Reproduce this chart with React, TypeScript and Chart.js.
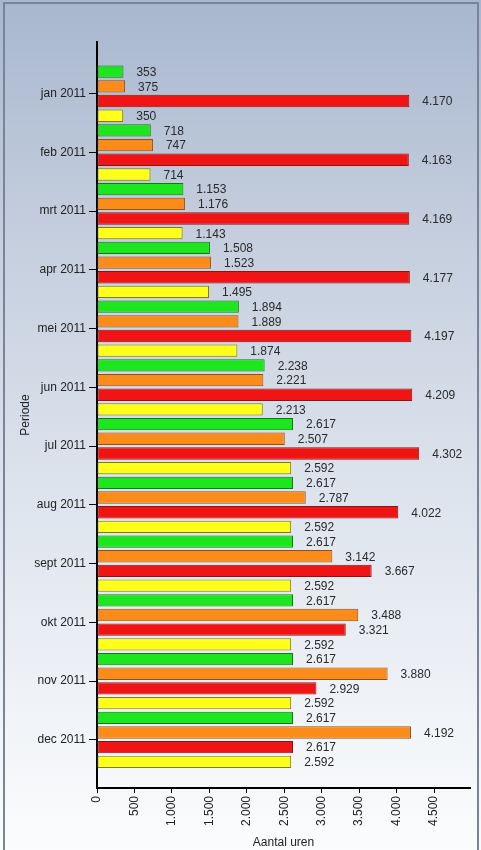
import React, { useEffect, useRef } from "react";
import { Chart, registerables } from "chart.js";

Chart.register(...registerables);

const months = [
  "jan 2011", "feb 2011", "mrt 2011", "apr 2011", "mei 2011", "jun 2011",
  "jul 2011", "aug 2011", "sept 2011", "okt 2011", "nov 2011", "dec 2011",
];
const greenValues = [353, 718, 1153, 1508, 1894, 2238, 2617, 2617, 2617, 2617, 2617, 2617];
const orangeValues = [375, 747, 1176, 1523, 1889, 2221, 2507, 2787, 3142, 3488, 3880, 4192];
const redValues = [4170, 4163, 4169, 4177, 4197, 4209, 4302, 4022, 3667, 3321, 2929, 2617];
const yellowValues = [350, 714, 1143, 1495, 1874, 2213, 2592, 2592, 2592, 2592, 2592, 2592];
const xTicks = [0, 500, 1000, 1500, 2000, 2500, 3000, 3500, 4000, 4500];

const FONT = '"Liberation Sans", Arial, sans-serif';

const fmt = (v: number) =>
  String(Math.round(v)).replace(/\B(?=(\d{3})+(?!\d))/g, ".");

const toPoints = (vals: number[]) => vals.map((v, i) => ({ x: v, y: i }));

const valueLabels = {
  id: "valueLabels",
  afterDatasetsDraw(chart: any) {
    const ctx = chart.ctx;
    ctx.save();
    ctx.font = `12px ${FONT}`;
    ctx.fillStyle = "#2a2a2a";
    ctx.textBaseline = "middle";
    ctx.textAlign = "left";
    chart.data.datasets.forEach((ds: any, i: number) => {
      const meta = chart.getDatasetMeta(i);
      meta.data.forEach((bar: any, j: number) => {
        const v = ds.data[j].x;
        ctx.fillText(fmt(v), bar.x + 13, bar.y + 1);
      });
    });
    ctx.restore();
  },
};

export default function App() {
  const canvasRef = useRef<HTMLCanvasElement | null>(null);

  useEffect(() => {
    const canvas = canvasRef.current;
    if (!canvas) return;
    const mk = (label: string, vals: number[], bg: string, border: string) => ({
      label,
      data: toPoints(vals),
      backgroundColor: bg,
      borderColor: border,
      borderWidth: 1,
      borderSkipped: false,
      categoryPercentage: 1,
      barPercentage: 0.84,
    });
    const chart = new Chart(canvas, {
      type: "bar",
      data: {
        datasets: [
          mk("groen", greenValues, "#1ee61e", "#127a12"),
          mk("oranje", orangeValues, "#fb8c1a", "#8a5220"),
          mk("rood", redValues, "#f01414", "#8a1414"),
          mk("geel", yellowValues, "#ffff1a", "#7c7a1c"),
        ],
      } as any,
      options: {
        indexAxis: "y",
        responsive: false,
        animation: false,
        devicePixelRatio: 1,
        layout: { padding: { left: 0, top: 42, right: 11, bottom: 0 } },
        plugins: {
          legend: { display: false },
          tooltip: { enabled: false },
        },
        scales: {
          y: {
            type: "linear",
            reverse: true,
            offset: false,
            min: -0.88,
            max: 11.82,
            afterBuildTicks: (s: any) => {
              s.ticks = months.map((_, i) => ({ value: i }));
            },
            afterFit: (s: any) => {
              s.width = 97;
            },
            ticks: {
              autoSkip: false,
              padding: 3,
              color: "#222",
              font: { size: 12, family: FONT },
              callback: (v: any) => months[v] ?? "",
            },
            grid: {
              display: true,
              offset: false,
              drawOnChartArea: false,
              drawTicks: true,
              tickLength: 8,
              color: "#000",
              lineWidth: 1,
            },
            border: { display: true, color: "#000", width: 2 },
            title: {
              display: true,
              text: "Periode",
              color: "#222",
              font: { size: 12, family: FONT },
              padding: { top: 18, bottom: 0 },
            },
          },
          x: {
            type: "linear",
            position: "bottom",
            offset: false,
            min: 0,
            max: 4980,
            afterBuildTicks: (s: any) => {
              s.ticks = xTicks.map((v) => ({ value: v }));
            },
            afterFit: (s: any) => {
              s.height = 62;
            },
            ticks: {
              autoSkip: false,
              minRotation: 90,
              maxRotation: 90,
              padding: 3,
              color: "#222",
              font: { size: 12, family: FONT },
              callback: (v: any) => fmt(Number(v)),
            },
            grid: {
              display: true,
              offset: false,
              drawOnChartArea: false,
              drawTicks: true,
              tickLength: 5,
              color: "#000",
              lineWidth: 1,
            },
            border: { display: true, color: "#000", width: 2 },
            title: {
              display: true,
              text: "Aantal uren",
              color: "#222",
              font: { size: 12, family: FONT },
              padding: { top: 1, bottom: 0 },
            },
          },
        },
      } as any,
      plugins: [valueLabels],
    });
    return () => chart.destroy();
  }, []);

  return (
    <div
      style={{
        position: "fixed",
        left: 0,
        top: 0,
        width: 481,
        height: 850,
        overflow: "hidden",
        background:
          "linear-gradient(to bottom, #a8b7cf 0%, #c2ccdc 25%, #dbe2ec 55%, #f1f4f8 85%, #fbfcfd 100%)",
      }}
    >
      <div
        style={{
          position: "absolute",
          left: 3,
          top: 2,
          width: 476,
          height: 870,
          border: "2px solid #7b8496",
          boxSizing: "border-box",
        }}
      />
      <canvas
        ref={canvasRef}
        width={481}
        height={850}
        style={{ position: "absolute", left: 0, top: 0 }}
      />
    </div>
  );
}
